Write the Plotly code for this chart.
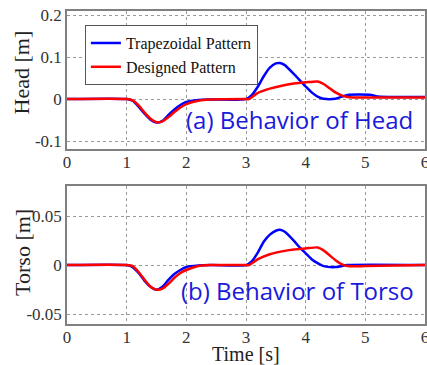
import plotly.graph_objects as go
from plotly.subplots import make_subplots

# ---- data ----
head_trap_t = [0, 1.0, 1.1, 1.2, 1.3, 1.4, 1.5, 1.6, 1.7, 1.8, 1.9, 2.0, 2.2, 2.4, 3.0, 3.1, 3.2, 3.3, 3.4, 3.5, 3.57, 3.65, 3.8, 3.9, 4.0, 4.1, 4.2, 4.3, 4.5, 4.7, 5.1, 5.2, 6.0]
head_trap = [0, 0, -0.004, -0.018, -0.035, -0.049, -0.056, -0.052, -0.038, -0.025, -0.014, -0.007, -0.002, -0.001, 0, 0.01, 0.03, 0.055, 0.075, 0.085, 0.086, 0.081, 0.06, 0.045, 0.03, 0.016, 0.006, 0.001, 0.001, 0.01, 0.01, 0.006, 0.005]

head_des_t = [0, 1.0, 1.1, 1.2, 1.3, 1.4, 1.5, 1.6, 1.7, 1.8, 1.9, 2.0, 2.2, 2.4, 3.0, 3.05, 3.2, 3.4, 3.6, 3.8, 4.0, 4.2, 4.3, 4.4, 4.5, 4.6, 4.7, 4.8, 6.0]
head_des = [0, 0, -0.003, -0.015, -0.032, -0.047, -0.055, -0.053, -0.043, -0.031, -0.020, -0.012, -0.004, -0.001, 0, 0, 0.015, 0.025, 0.032, 0.037, 0.040, 0.042, 0.036, 0.026, 0.016, 0.009, 0.005, 0.004, 0.004]

torso_trap_t = [0, 1.0, 1.1, 1.2, 1.3, 1.4, 1.5, 1.6, 1.7, 1.8, 1.9, 2.0, 2.2, 2.4, 3.0, 3.1, 3.2, 3.3, 3.4, 3.5, 3.57, 3.65, 3.8, 3.9, 4.0, 4.1, 4.2, 4.3, 4.5, 4.7, 6.0]
torso_trap = [0, 0, -0.002, -0.008, -0.016, -0.022, -0.025, -0.022, -0.015, -0.009, -0.005, -0.002, -0.0005, 0, 0, 0.004, 0.013, 0.024, 0.031, 0.035, 0.036, 0.034, 0.025, 0.018, 0.012, 0.006, 0.002, -0.001, -0.002, 0, 0]

torso_des_t = [0, 1.0, 1.1, 1.2, 1.3, 1.4, 1.5, 1.6, 1.7, 1.8, 1.9, 2.0, 2.2, 2.4, 3.0, 3.05, 3.2, 3.4, 3.6, 3.8, 4.0, 4.2, 4.3, 4.4, 4.5, 4.6, 4.7, 5.0, 6.0]
torso_des = [0, 0, -0.001, -0.007, -0.015, -0.022, -0.025, -0.024, -0.019, -0.013, -0.008, -0.005, -0.001, 0, 0, 0, 0.006, 0.011, 0.014, 0.016, 0.017, 0.018, 0.015, 0.010, 0.005, 0.001, -0.001, -0.001, 0]

x_ticks = [0, 1, 2, 3, 4, 5, 6]
head_ticks = [-0.1, 0, 0.1, 0.2]
head_tick_text = ["-0.1", "0", "0.1", "0.2"]
torso_ticks = [-0.05, 0, 0.05]
torso_tick_text = ["-0.05", "0", "0.05"]

BLUE = "#0000FF"
RED = "#FF0000"
SERIF = "Liberation Serif"
SANS = "Open Sans"

fig = make_subplots(rows=2, cols=1, vertical_spacing=0.118)

line_style = dict(width=2.5, shape="spline", smoothing=0.6)
fig.add_trace(go.Scatter(x=head_trap_t, y=head_trap, mode="lines", name="Trapezoidal Pattern",
                         line=dict(color=BLUE, **line_style)), row=1, col=1)
fig.add_trace(go.Scatter(x=head_des_t, y=head_des, mode="lines", name="Designed Pattern",
                         line=dict(color=RED, **line_style)), row=1, col=1)
fig.add_trace(go.Scatter(x=torso_trap_t, y=torso_trap, mode="lines", showlegend=False,
                         line=dict(color=BLUE, **line_style)), row=2, col=1)
fig.add_trace(go.Scatter(x=torso_des_t, y=torso_des, mode="lines", showlegend=False,
                         line=dict(color=RED, **line_style)), row=2, col=1)

axis_common = dict(showgrid=True, gridcolor="#9a9a9a", griddash="dot", gridwidth=1,
                   showline=True, linecolor="#808080", linewidth=1.5, mirror=True,
                   zeroline=False, ticks="", automargin=False, ticklabeloverflow="allow",
                   tickfont=dict(family=SERIF, size=17, color="#333333"))

fig.update_xaxes(range=[0, 6], tickvals=x_ticks, domain=[0, 1], ticklabelstandoff=-3, **axis_common)

fig.update_yaxes(range=[-0.119, 0.21], tickvals=head_ticks, ticktext=head_tick_text,
                 domain=[0.5591, 1.0], row=1, col=1, **axis_common)
fig.update_yaxes(range=[-0.06, 0.0806], tickvals=torso_ticks, ticktext=torso_tick_text,
                 domain=[0.0, 0.4409], row=2, col=1, **axis_common)

ytitle_font = dict(family=SERIF, size=22, color="#222222")
xtitle_font = dict(family=SERIF, size=20, color="#222222")
# axis titles placed as paper annotations for exact positioning
fig.add_annotation(text="Head [m]", xref="paper", yref="paper", x=-0.126, y=0.8035,
                   textangle=-90, showarrow=False, xanchor="center", yanchor="middle", font=ytitle_font)
fig.add_annotation(text="Torso [m]", xref="paper", yref="paper", x=-0.126, y=0.23,
                   textangle=-90, showarrow=False, xanchor="center", yanchor="middle", font=ytitle_font)
fig.add_annotation(text="Time [s]", xref="paper", yref="paper", x=0.5, y=-0.096,
                   showarrow=False, xanchor="center", yanchor="middle", font=xtitle_font)

fig.add_annotation(text="(a) Behavior of Head", xref="x", yref="y", x=5.83, y=-0.048,
                   xanchor="right", yanchor="middle", showarrow=False,
                   font=dict(family=SANS, size=24, color="#1a1adc"))
fig.add_annotation(text="(b) Behavior of Torso", xref="x2", yref="y2", x=5.85, y=-0.0255,
                   xanchor="right", yanchor="middle", showarrow=False,
                   font=dict(family=SANS, size=24, color="#1a1adc"))

fig.update_layout(
    width=427, height=365,
    margin=dict(l=67, r=2, t=11, b=41, autoexpand=False),
    paper_bgcolor="white", plot_bgcolor="white",
    legend=dict(x=0.05, y=0.955, xanchor="left", yanchor="top",
                bgcolor="white", bordercolor="#555555", borderwidth=1,
                font=dict(family=SERIF, size=16, color="#111111"),
                tracegroupgap=0, itemwidth=30),
    showlegend=True,
)

fig.write_html("out.html", config={"displayModeBar": False},
               post_script="document.body.style.margin='0';document.body.style.overflow='hidden';")
